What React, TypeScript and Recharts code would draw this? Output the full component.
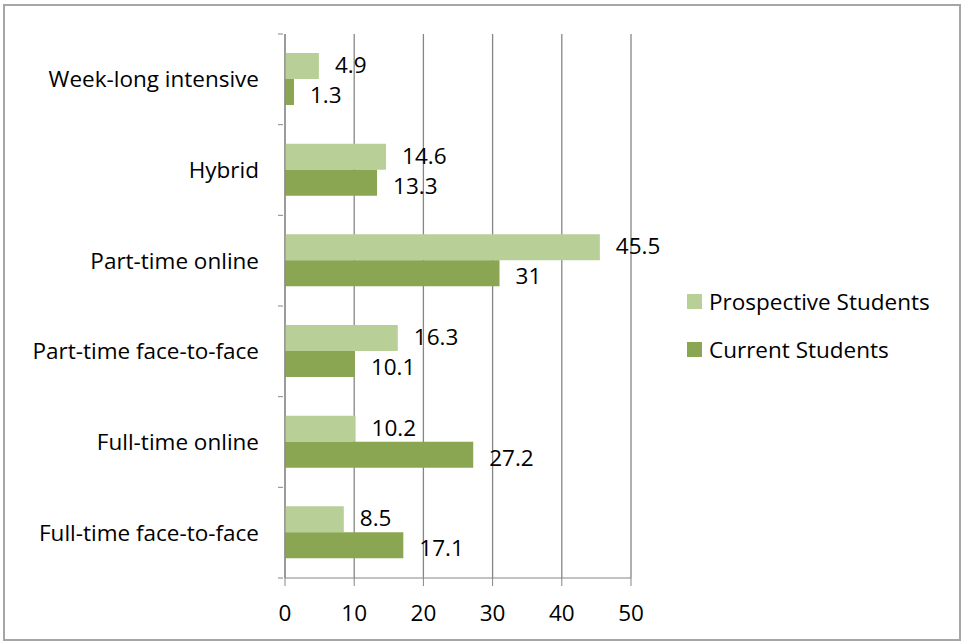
import { BarChart, Bar, XAxis, YAxis, CartesianGrid, Legend, LabelList } from 'recharts'

const categories = [
  'Week-long intensive',
  'Hybrid',
  'Part-time online',
  'Part-time face-to-face',
  'Full-time online',
  'Full-time face-to-face',
]
const prospective = [4.9, 14.6, 45.5, 16.3, 10.2, 8.5]
const current = [1.3, 13.3, 31, 10.1, 27.2, 17.1]
const xTicks = [0, 10, 20, 30, 40, 50]

const series = [
  { key: 'prospective', name: 'Prospective Students', color: '#b9cf98', shift: -1 },
  { key: 'current', name: 'Current Students', color: '#8aa652', shift: 3 },
]

const data = categories.map((c, i) => ({ cat: c, prospective: prospective[i], current: current[i] }))

const FONT = '"Open Sans", sans-serif'
const FS = 22.5
const AXIS = '#868686'

function CatTick(props: any) {
  const { x, y, payload, index } = props
  const half = payload?.offset || 45.3
  return (
    <g>
      <line x1={x + 1} x2={x + 6} y1={y - half} y2={y - half} stroke={AXIS} />
      {index === categories.length - 1 && (
        <line x1={x + 1} x2={x + 6} y1={y + half} y2={y + half} stroke={AXIS} />
      )}
      <text x={x - 18} y={y} dy="0.35em" textAnchor="end" fontSize={FS} fill="#000" fontFamily={FONT}>
        {payload.value}
      </text>
    </g>
  )
}

function LegendBox() {
  return (
    <div style={{ fontFamily: FONT, fontSize: FS, color: '#000' }}>
      {series.map((s) => (
        <div key={s.key} style={{ display: 'flex', alignItems: 'center', height: 48 }}>
          <span style={{ width: 15, height: 15, background: s.color, marginRight: 7, display: 'inline-block' }} />
          {s.name}
        </div>
      ))}
    </div>
  )
}

export default function App() {
  return (
    <div style={{ position: 'absolute', left: 0, top: 0, width: 967, height: 644, background: '#fff' }}>
      <div
        style={{
          position: 'absolute',
          left: 3,
          top: 4,
          width: 958,
          height: 637,
          border: '2px solid #a6a6a6',
          boxSizing: 'border-box',
        }}
      />
      <BarChart
        width={967}
        height={644}
        data={data}
        layout="vertical"
        margin={{ top: 34, right: 336, bottom: 0, left: 0 }}
        barGap={0}
        barSize={26}
      >
        <CartesianGrid horizontal={false} stroke={AXIS} strokeWidth={1.3} />
        <XAxis
          type="number"
          domain={[0, 50]}
          ticks={xTicks}
          height={66}
          stroke={AXIS}
          tickSize={8}
          tickMargin={19}
          tick={{ fontSize: FS, fill: '#000', fontFamily: FONT }}
        />
        <YAxis
          type="category"
          dataKey="cat"
          width={285}
          stroke={AXIS}
          tickLine={false}
          tick={<CatTick />}
          interval={0}
        />
        <Legend
          layout="vertical"
          align="center"
          verticalAlign="middle"
          wrapperStyle={{ left: 687, top: 277, width: 275 }}
          content={<LegendBox />}
        />
        {series.map((s) => (
          <Bar key={s.key} dataKey={s.key} name={s.name} fill={s.color} isAnimationActive={false}>
            <LabelList
              dataKey={s.key}
              position="right"
              offset={16}
              dy={s.shift}
              fontSize={FS}
              fill="#000"
              fontFamily={FONT}
            />
          </Bar>
        ))}
      </BarChart>
    </div>
  )
}
